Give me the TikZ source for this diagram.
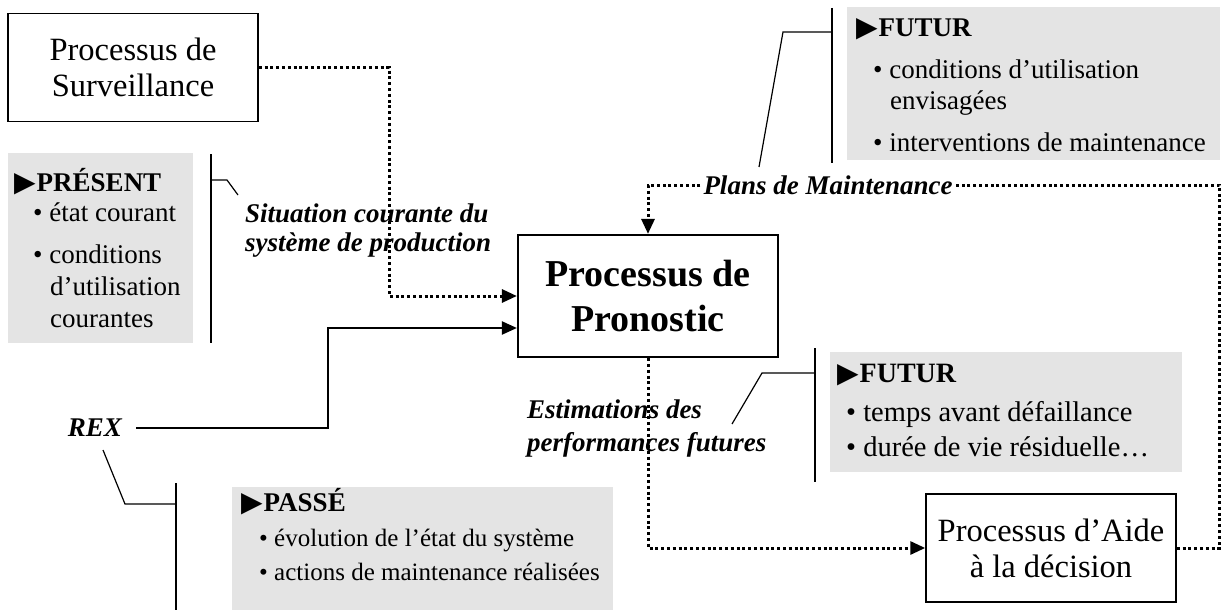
\documentclass[tikz,border=0pt]{standalone}
\usepackage{fontspec}
\setmainfont{Liberation Serif}
\newfontfamily\symbfont{DejaVu Sans}
\usetikzlibrary{arrows.meta,calc}
\definecolor{greyfill}{RGB}{228,228,228}
\newcommand{\pointer}{{\symbfont\fontsize{28}{28}\selectfont ▶}\hspace{1pt}}
\begin{document}
\begin{tikzpicture}[x=1pt,y=-1pt,
  procbox/.style={draw, line width=1.5pt, align=center, inner sep=0pt,
    font=\fontsize{32.5}{36}\selectfont, minimum width=250pt, minimum height=108pt},
  mainbox/.style={draw, line width=2.2pt, align=center, inner sep=0pt,
    font=\fontsize{38}{45}\selectfont\bfseries, minimum width=260pt, minimum height=122pt},
  txt/.style={anchor=base west, inner sep=0pt, font=\fontsize{27}{31}\selectfont},
  hdr/.style={anchor=base west, inner sep=0pt, font=\fontsize{27}{31}\selectfont\bfseries},
  lbl/.style={anchor=base west, inner sep=0pt, font=\fontsize{27}{29}\selectfont\bfseries\itshape},
  dotline/.style={line width=3pt, dash pattern=on 3pt off 2.8pt},
  solidline/.style={line width=2.2pt},
  arr/.style={-{Triangle[length=15pt,width=13pt]}},
  bar/.style={line width=1.3pt},
  hookline/.style={line width=1.2pt}
]
\useasboundingbox (0,0) rectangle (1224,610);

% grey panels
\fill[greyfill] (8,153) rectangle (193,343);
\fill[greyfill] (847,7) rectangle (1220,160);
\fill[greyfill] (830,352) rectangle (1182,472);
\fill[greyfill] (232,487) rectangle (613,610);

% process boxes
\node[procbox] (surv) at (133,67.5) {Processus de\\Surveillance};
\node[mainbox] (prono) at (648,296) {Processus de\\Pronostic};
\node[procbox] (aide) at (1051,548) {Processus d’Aide\\à la décision};

% labels on connectors
\node[anchor=center, inner xsep=3pt, inner ysep=0pt,
  font=\fontsize{27}{29}\selectfont\bfseries\itshape] (plans) at (828,185) {Plans de Maintenance};
\node[anchor=east, inner xsep=14pt, inner ysep=0pt,
  font=\fontsize{27}{29}\selectfont\bfseries\itshape] (rex) at (136,428) {REX};

% connectors
\draw[dotline, arr] (surv.east) -| (389,200) |- (prono.west);
\draw[solidline, arr] (rex.east) -| (328,380) |- ([yshift=-32pt]prono.west);
\draw[dotline, arr] (prono.south) |- (aide.west);
\draw[dotline] (aide.east) -- ++(43,0) |- (plans.east);
\draw[dotline, arr] (plans.west) -| (prono.north);

% brackets and leaders
\draw[bar] (211,154) -- (211,343);
\draw[hookline] (211,180) -- (227,180) -- (238,195);
\draw[bar] (176,483) -- (176,610);
\draw[hookline] (103,450) -- (125,504) -- (176,504);
\draw[bar] (832,8) -- (832,163);
\draw[hookline] (832,32) -- (783,32) -- (759,167);
\draw[bar] (815,348) -- (815,482);
\draw[hookline] (815,373) -- (762,373) -- (732,424);

% connector label texts
\node[lbl] (situ1) at (245,222) {Situation courante du};
\node[lbl] (situ2) at (245,251) {système de production};
\node[lbl] (est1) at (527,418) {Estimations des};
\node[lbl] (est2) at (527,451) {performances futures};

% PRESENT panel
\node[hdr] (pr0) at (14,191) {\pointer PRÉSENT};
\node[txt] (pr1) at (33,221) {•\ état courant};
\node[txt] (pr2) at (33,263) {•\ conditions};
\node[txt] (pr3) at (50,295) {d’utilisation};
\node[txt] (pr4) at (50,327) {courantes};

% FUTUR top panel
\node[hdr] (ft0) at (856,37) {\pointer FUTUR};
\node[txt] (ft1) at (873,79) {•\ conditions d’utilisation};
\node[txt] (ft2) at (890,110) {envisagées};
\node[txt] (ft3) at (873,151) {•\ interventions de maintenance};

% FUTUR lower panel
\node[hdr, font=\fontsize{28}{31}\selectfont\bfseries] (fb0) at (837,382) {\pointer FUTUR};
\node[txt, font=\fontsize{28.5}{31}\selectfont] (fb1) at (846,421) {•\ temps avant défaillance};
\node[txt, font=\fontsize{28.5}{31}\selectfont] (fb2) at (846,456) {•\ durée de vie résiduelle…};

% PASSE panel
\node[hdr] (pa0) at (241,511) {\pointer PASSÉ};
\node[txt, font=\fontsize{25}{30}\selectfont] (pa1) at (259,546) {•\ évolution de l’état du système};
\node[txt, font=\fontsize{25}{30}\selectfont] (pa2) at (259,580) {•\ actions de maintenance réalisées};
\end{tikzpicture}
\end{document}
